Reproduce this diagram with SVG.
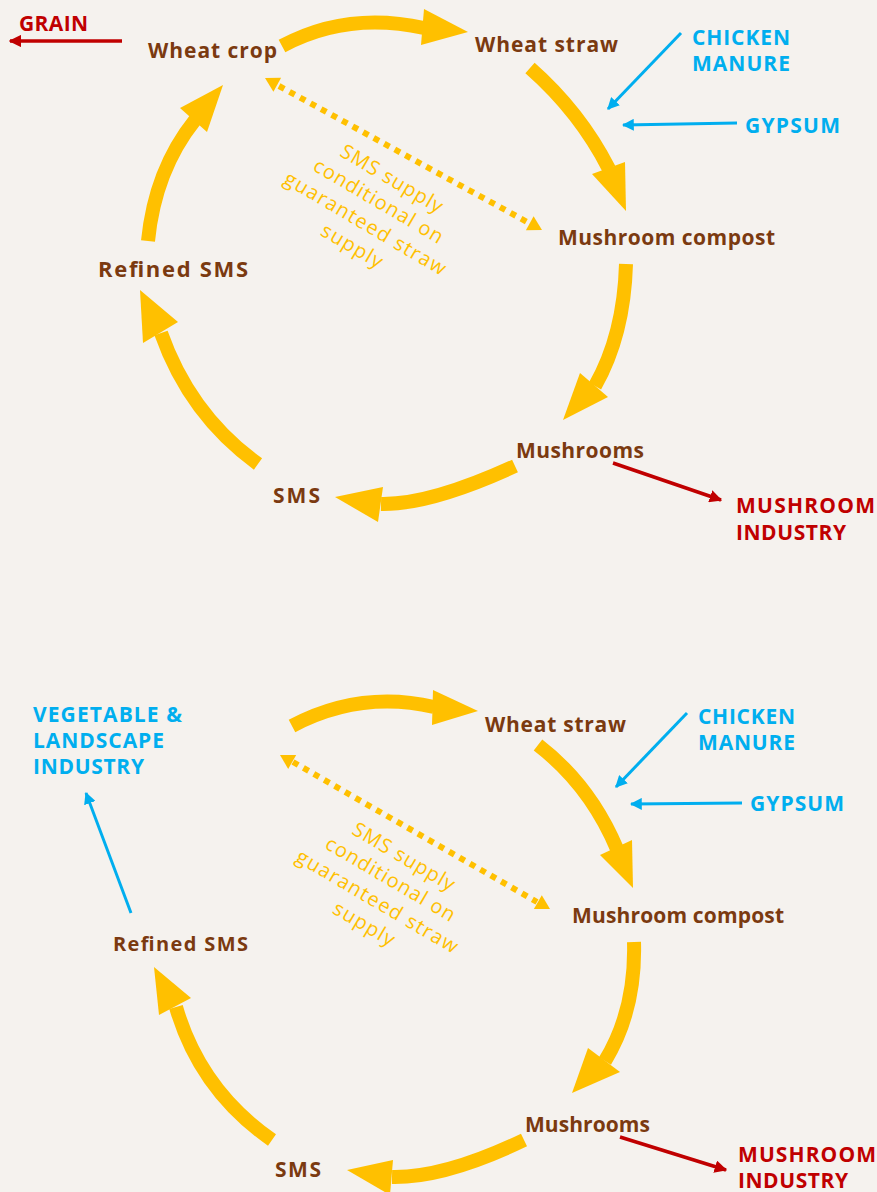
<svg xmlns="http://www.w3.org/2000/svg" width="877" height="1192" viewBox="0 0 877 1192">
<style>
.bg{fill:#f5f2ee}
.n{font-family:"Open Sans","Liberation Sans",sans-serif;font-weight:700;font-size:21px;fill:#7b3a10}
.b{font-family:"Open Sans","Liberation Sans",sans-serif;font-weight:700;font-size:21px;fill:#00aeef}
.r{font-family:"Open Sans","Liberation Sans",sans-serif;font-weight:700;font-size:21px;fill:#c00000}
.note{font-family:"Open Sans","Liberation Sans",sans-serif;font-weight:400;font-size:20px;fill:#ffc000;text-anchor:middle}
.shaft{fill:none;stroke:#ffc000;stroke-width:14}
.head{fill:#ffc000}
.dot{fill:none;stroke:#ffc000;stroke-width:6;stroke-dasharray:6 6}
.bl{fill:none;stroke:#00aeef;stroke-width:3}
.rl{fill:none;stroke:#c00000;stroke-width:3.5}
</style>
<defs>
<marker id="mb" viewBox="0 0 10 10" refX="9" refY="5" markerWidth="4" markerHeight="4" orient="auto" markerUnits="strokeWidth"><path d="M0,0 L10,5 L0,10 Z" fill="#00aeef"/></marker>
<marker id="mr" viewBox="0 0 10 10" refX="9" refY="5" markerWidth="3.6" markerHeight="3.6" orient="auto" markerUnits="strokeWidth"><path d="M0,0 L10,5 L0,10 Z" fill="#c00000"/></marker>
</defs>
<rect class="bg" x="0" y="0" width="877" height="1192"/>

<g id="connectors">
<!-- top diagram -->
<path class="shaft" d="M282,46 Q347,11 424,28"/>
<polygon class="head" points="468,32 424,9 421,45"/>
<path class="shaft" d="M530,68 Q580,112 609,169"/>
<polygon class="head" points="626,211 592,174 625,162"/>
<path class="shaft" d="M626,264 Q624,335 595,386"/>
<polygon class="head" points="563,420 580,373 608,397"/>
<path class="shaft" d="M515,466 Q430,505 381,504"/>
<polygon class="head" points="335,497 383,487 378,522"/>
<path class="shaft" d="M258,464 Q190,415 161,333"/>
<polygon class="head" points="140,290 143,343 178,322"/>
<path class="shaft" d="M148,241 Q155,170 195,120"/>
<polygon class="head" points="223,85 180,108 207,132"/>
<path class="dot" d="M279,86 L529,223"/>
<polygon class="head" points="265,78 273.4,91.7 281.1,77.7"/>
<polygon class="head" points="542,230 525.9,230.3 533.6,216.3"/>
<path class="rl" d="M122,41 L10,41" marker-end="url(#mr)"/>
<path class="bl" d="M681,33 L608,109" marker-end="url(#mb)"/>
<path class="bl" d="M737,123 L623,125" marker-end="url(#mb)"/>
<path class="rl" d="M613,463 L721,500" marker-end="url(#mr)"/>
<!-- bottom diagram -->
<path class="shaft" d="M292,726 Q360,690 434,707"/>
<polygon class="head" points="478,711 433,690 432,725"/>
<path class="shaft" d="M538,745 Q590,785 617,849"/>
<polygon class="head" points="633,888 600,855 632,840"/>
<path class="shaft" d="M634,942 Q636,1010 605,1061"/>
<polygon class="head" points="572,1093 588,1048 620,1072"/>
<path class="shaft" d="M524,1140 Q445,1178 392,1177"/>
<polygon class="head" points="347,1170 393,1160 390,1195"/>
<path class="shaft" d="M272,1140 Q200,1090 176,1007"/>
<polygon class="head" points="154,967 159,1015 191,998"/>
<path class="dot" d="M293,762 L537,902"/>
<polygon class="head" points="280,755 288.2,768.9 296.2,755.0"/>
<polygon class="head" points="550,909 533.9,909.0 541.8,895.2"/>
<path class="bl" d="M131,913 L86,793" marker-end="url(#mb)"/>
<path class="bl" d="M687,713 L616,787" marker-end="url(#mb)"/>
<path class="bl" d="M742,803 L631,804" marker-end="url(#mb)"/>
<path class="rl" d="M620,1137 L726,1170" marker-end="url(#mr)"/>
</g>

<!-- top diagram nodes -->
<g id="grain"><text class="r" x="19" y="31" textLength="69">GRAIN</text></g>
<g id="wheat-crop"><text class="n" x="148" y="58" textLength="129">Wheat crop</text></g>
<g id="wheat-straw"><text class="n" x="475" y="52" textLength="143">Wheat straw</text></g>
<g id="chicken-manure"><text class="b" x="692" y="45" textLength="98">CHICKEN</text><text class="b" x="692" y="71" textLength="98">MANURE</text></g>
<g id="gypsum"><text class="b" x="745" y="133" textLength="95">GYPSUM</text></g>
<g id="mushroom-compost"><text class="n" x="558" y="245" textLength="217">Mushroom compost</text></g>
<g id="refined-sms"><text class="n" x="98" y="277" textLength="150" style="font-size:22px">Refined SMS</text></g>
<g id="mushrooms"><text class="n" x="516" y="458" textLength="128">Mushrooms</text></g>
<g id="sms"><text class="n" x="273" y="503" textLength="47">SMS</text></g>
<g id="mushroom-industry"><text class="r" x="736" y="513" textLength="139">MUSHROOM</text><text class="r" x="736" y="540" textLength="110">INDUSTRY</text></g>
<g id="note" transform="translate(372,212) rotate(30.5)">
<text class="note" x="0" y="-32" textLength="115">SMS supply</text>
<text class="note" x="0" y="-6" textLength="147">conditional on</text>
<text class="note" x="0" y="20" textLength="184">guaranteed straw</text>
<text class="note" x="0" y="46" textLength="68">supply</text>
</g>

<!-- bottom diagram nodes -->
<g id="vegetable-landscape"><text class="b" x="33" y="722" textLength="149">VEGETABLE &amp;</text><text class="b" x="33" y="748" textLength="131">LANDSCAPE</text><text class="b" x="33" y="774" textLength="111">INDUSTRY</text></g>
<g id="wheat-straw-2"><text class="n" x="485" y="732" textLength="141">Wheat straw</text></g>
<g id="chicken-manure-2"><text class="b" x="698" y="724" textLength="97">CHICKEN</text><text class="b" x="698" y="750" textLength="97">MANURE</text></g>
<g id="gypsum-2"><text class="b" x="750" y="811" textLength="94">GYPSUM</text></g>
<g id="mushroom-compost-2"><text class="n" x="572" y="923" textLength="212">Mushroom compost</text></g>
<g id="refined-sms-2"><text class="n" x="113" y="951" textLength="135" style="font-size:20px">Refined SMS</text></g>
<g id="mushrooms-2"><text class="n" x="525" y="1132" textLength="125">Mushrooms</text></g>
<g id="sms-2"><text class="n" x="275" y="1177" textLength="46">SMS</text></g>
<g id="mushroom-industry-2"><text class="r" x="738" y="1162" textLength="138">MUSHROOM</text><text class="r" x="738" y="1188" textLength="110">INDUSTRY</text></g>
<g id="note-2" transform="translate(384,890) rotate(30.5)">
<text class="note" x="0" y="-32" textLength="115">SMS supply</text>
<text class="note" x="0" y="-6" textLength="147">conditional on</text>
<text class="note" x="0" y="20" textLength="184">guaranteed straw</text>
<text class="note" x="0" y="46" textLength="68">supply</text>
</g>
</svg>
